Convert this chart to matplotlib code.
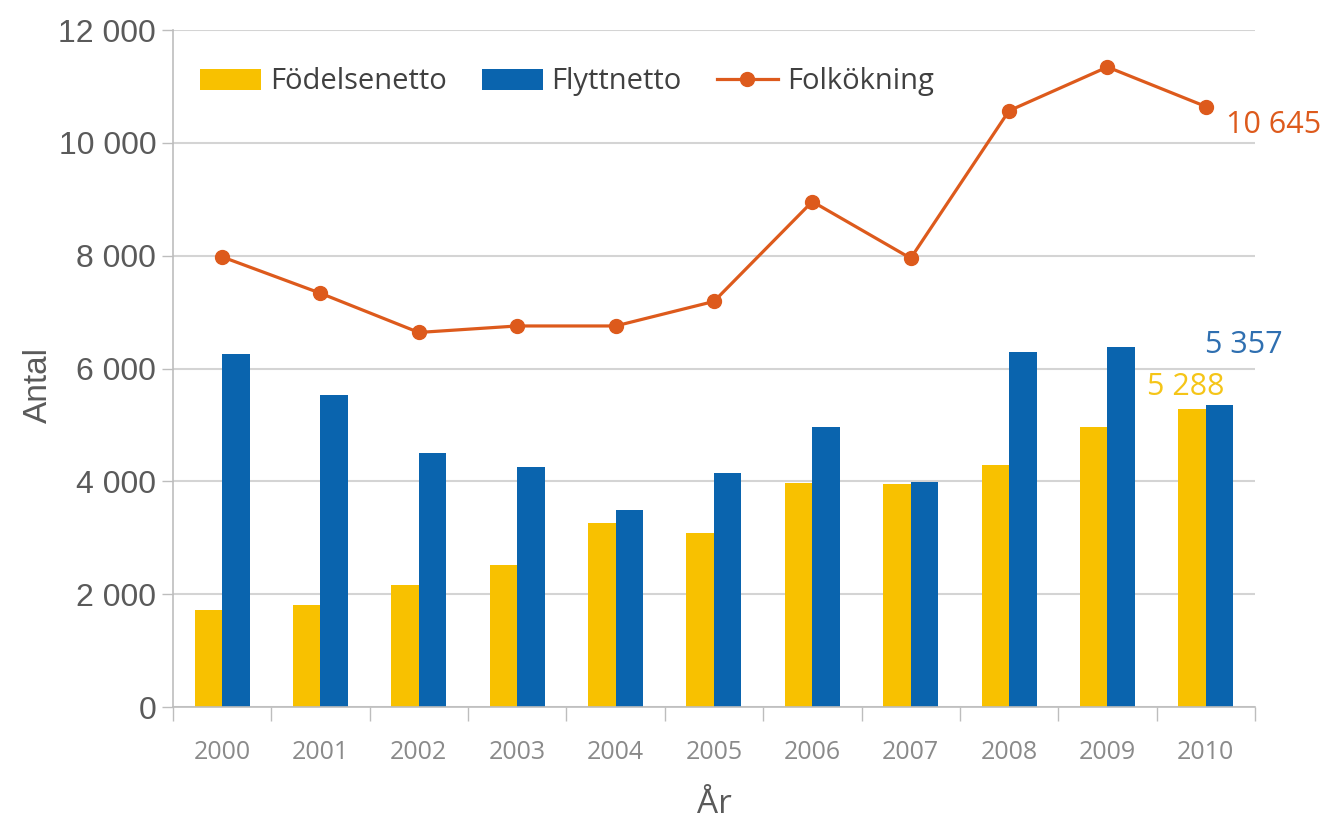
import numpy as np
import matplotlib.pyplot as plt
from matplotlib.ticker import FuncFormatter

years = ["2000", "2001", "2002", "2003", "2004", "2005",
         "2006", "2007", "2008", "2009", "2010"]
fodelsenetto = [1720, 1808, 2160, 2515, 3255, 3085, 3966, 3960, 4290, 4965, 5288]
flyttnetto = [6259, 5532, 4509, 4261, 3493, 4143, 4970, 3995, 6300, 6383, 5357]
folkokning = [7980, 7335, 6640, 6755, 6755, 7190, 8960, 7955, 10570, 11345, 10645]

yellow = "#F8C100"
blue = "#0A64AE"
orange = "#DD5A1C"
grey = "#5a5a5a"

plt.rcParams['font.family'] = ['Open Sans', 'DejaVu Sans']

fig = plt.figure(figsize=(13.3, 8.26), dpi=100)
ax = fig.add_axes([0.130, 0.144, 0.8136, 0.8196])

x = np.arange(len(years))
w = 0.28
b1 = ax.bar(x - w / 2, fodelsenetto, w, color=yellow, label="Födelsenetto", zorder=2)
b2 = ax.bar(x + w / 2, flyttnetto, w, color=blue, label="Flyttnetto", zorder=2)
ln, = ax.plot(x, folkokning, color=orange, lw=2.3, marker="o", ms=10,
              label="Folkökning", zorder=3)

ax.set_xlim(-0.5, len(years) - 0.5)
ax.set_ylim(0, 12000)
ax.set_yticks(range(0, 12001, 2000))
ax.yaxis.set_major_formatter(FuncFormatter(lambda v, p: f"{int(v):,}".replace(",", " ")))
ax.grid(axis="y", color="#d4d4d4", lw=1.5, zorder=0)

ax.set_xticks(x)
ax.set_xticklabels(years)
ax.set_xticks(np.arange(-0.5, len(years)), minor=True)
ax.tick_params(axis="x", which="major", length=0, pad=24, labelsize=18,
               labelcolor="#8a8a8a")
ax.tick_params(axis="x", which="minor", length=10, width=1, color="#bdbdbd")
ax.tick_params(axis="y", length=8, width=1, color="#bdbdbd", pad=4,
               labelsize=23, labelcolor=grey)
for lbl in ax.get_yticklabels():
    lbl.set_family(['Liberation Sans', 'DejaVu Sans'])

for s in ["top", "right"]:
    ax.spines[s].set_visible(False)
for s in ["left", "bottom"]:
    ax.spines[s].set_color("#bdbdbd")
    ax.spines[s].set_linewidth(1.2)

ax.set_ylabel("Antal", fontsize=24, color=grey,
              family=['Liberation Sans', 'DejaVu Sans'])
ax.yaxis.set_label_coords(-0.11, 0.475)
ax.set_xlabel("År", fontsize=24, color=grey, labelpad=16)

fmt = lambda v: f"{v:,}".replace(",", " ")
ax.annotate(fmt(folkokning[-1]), (x[-1], folkokning[-1]), xytext=(20, -18),
            textcoords="offset pixels", ha="left", va="center",
            fontsize=22, color=orange, annotation_clip=False)
ax.annotate(fmt(flyttnetto[-1]), (x[-1] + w / 2, flyttnetto[-1]), xytext=(24, 60),
            textcoords="offset pixels", ha="center", va="center",
            fontsize=22, color="#2f6fb0", annotation_clip=False)
ax.annotate(fmt(fodelsenetto[-1]), (x[-1] - w / 2, fodelsenetto[-1]), xytext=(-6, 22),
            textcoords="offset pixels", ha="center", va="center",
            fontsize=22, color="#f5c518", annotation_clip=False)

ax.legend([b1, b2, ln], ["Födelsenetto", "Flyttnetto", "Folkökning"],
          loc="upper left", bbox_to_anchor=(0.006, 0.975), ncol=3, frameon=False,
          fontsize=21, handlelength=2.1, handleheight=0.75, columnspacing=1.2,
          handletextpad=0.3, labelcolor="#404040", borderaxespad=0.3)

fig.savefig("out.png", dpi=100)
